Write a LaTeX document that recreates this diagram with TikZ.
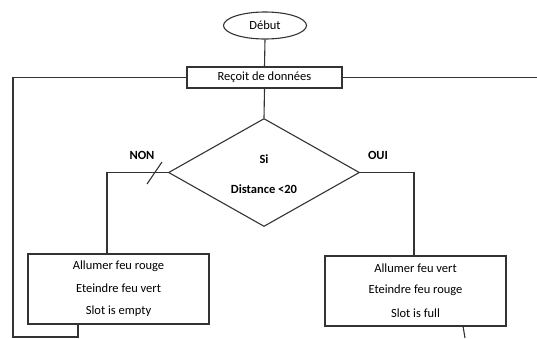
\documentclass[tikz,border=0pt]{standalone}
\usepackage{fontspec}
\setmainfont{Carlito}
\usetikzlibrary{shapes.geometric}
\begin{document}
\begin{tikzpicture}[x=1pt,y=-1pt,
  line/.style={draw=black!80, line width=1.1pt},
  txt/.style={inner sep=0pt, font=\fontsize{12.5}{14}\selectfont},
  box/.style={line, rectangle, inner sep=0pt, font=\fontsize{12.5}{14}\selectfont},
  lbl/.style={font=\bfseries\fontsize{12.5}{14}\selectfont, inner sep=0pt}]
\useasboundingbox (0,0) rectangle (537,338);
\node[line, ellipse, minimum width=83pt, minimum height=27pt, inner sep=0pt, font=\fontsize{12.5}{14}\selectfont] (debut) at (265,25.5) {Début};
\node[box, minimum width=155pt, minimum height=21pt] (recoit) at (264.5,77.5) {Reçoit de données};
\node[line, diamond, minimum width=191pt, minimum height=108pt, inner sep=0pt, aspect=1.77] (si) at (264,172.5) {};
\node[lbl] (sitxt) at (264,159) {Si};
\node[lbl] (dist) at (264,189) {Distance <20};
\node[lbl] (non) at (142,155) {NON};
\node[lbl] (oui) at (378,155) {OUI};
\node[box, minimum width=181pt, minimum height=70pt] (left) at (118.5,289) {};
\node[txt] (l1) at (118.5,266) {Allumer feu rouge};
\node[txt] (l2) at (118.5,288) {Eteindre feu vert};
\node[txt] (l3) at (118.5,311) {Slot is empty};
\node[box, minimum width=181pt, minimum height=70pt] (right) at (415.5,291) {};
\node[txt] (r1) at (415.5,268) {Allumer feu vert};
\node[txt] (r2) at (415.5,290) {Eteindre feu rouge};
\node[txt] (r3) at (415.5,313) {Slot is full};
\coordinate (ltop) at (13,77.5);
\coordinate (lbot) at (13,337);
\coordinate (rend) at (537,77.5);
\coordinate (bl) at (78,337);
\coordinate (bl2) at (78,338);
\coordinate (br) at (465,338);
\coordinate (nonc) at (107,172.5);
\coordinate (ouic) at (414,172.5);
\coordinate (s1) at (147,184);
\coordinate (s2) at (162,162);
\draw[line] (debut.south) -- (recoit.north);
\draw[line] (recoit.south) -- (si.north);
\draw[line] (recoit.west) -- (ltop) -- (lbot) -- (bl);
\draw[line] (recoit.east) -- (rend);
\draw[line] (si.west) -- (nonc) -- (nonc |- left.north);
\draw[line] (si.east) -- (ouic) -- (ouic |- right.north);
\draw[line] (s1) -- (s2);
\draw[line] (left.south -| bl2) -- (bl2);
\draw[line] (463,326) -- (br);
\end{tikzpicture}
\end{document}
